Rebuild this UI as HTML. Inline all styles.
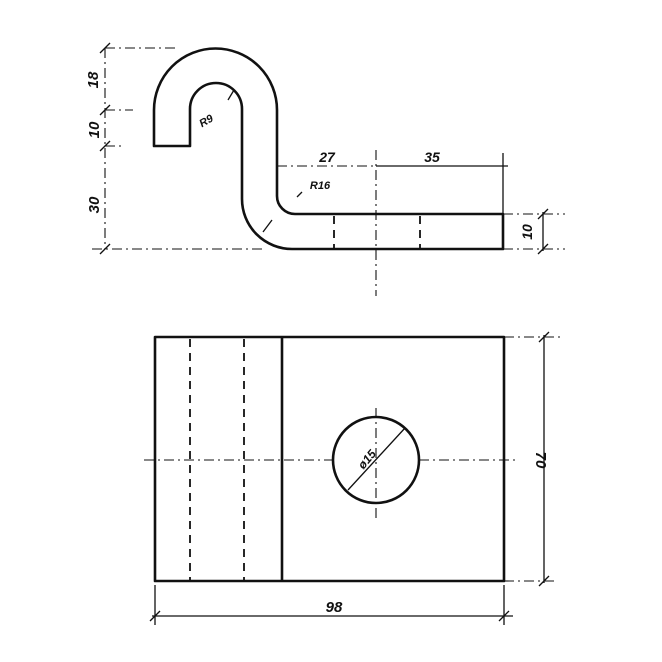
<!DOCTYPE html>
<html><head><style>html,body{margin:0;padding:0;background:#fff}svg{display:block}
text{font-family:"Liberation Sans",sans-serif;font-style:italic;font-weight:bold;fill:#111}</style></head>
<body>
<svg width="662" height="662" viewBox="0 0 662 662" xmlns="http://www.w3.org/2000/svg">
<g fill="none" stroke="#111" stroke-width="2.6" stroke-linejoin="round">
<path d="M154,146 L154,110 A61.5,61.5 0 0 1 277,110 L277,196 A18,18 0 0 0 295,214 L503,214 L503,249 L292,249 A50,50 0 0 1 242,199 L242,109 A26,26 0 0 0 190,109 L190,146 Z"/>
<rect x="155" y="337" width="349" height="244"/>
<line x1="282" y1="337" x2="282" y2="581"/>
<circle cx="376" cy="460" r="43"/>
</g>
<g stroke="#111" stroke-width="1.8" stroke-dasharray="8,6" fill="none">
<line x1="334" y1="216" x2="334" y2="248"/>
<line x1="420" y1="216" x2="420" y2="248"/>
<line x1="190" y1="339" x2="190" y2="580"/>
<line x1="244" y1="339" x2="244" y2="580"/>
</g>
<g stroke="#111" stroke-width="1.1" fill="none" stroke-dasharray="10,4,2,4">
<line x1="376" y1="150" x2="376" y2="296"/>
<line x1="144" y1="460" x2="333" y2="460"/>
<line x1="419" y1="460" x2="516" y2="460"/>
<line x1="376" y1="408" x2="376" y2="520"/>
<line x1="105" y1="48" x2="105" y2="249"/>
<line x1="105" y1="48" x2="175" y2="48"/>
<line x1="105" y1="110" x2="133" y2="110"/>
<line x1="105" y1="146" x2="125" y2="146"/>
<line x1="92" y1="249" x2="265" y2="249"/>
<line x1="277" y1="166" x2="376" y2="166"/>
<line x1="503" y1="214" x2="565" y2="214"/>
<line x1="503" y1="249" x2="565" y2="249"/>
<line x1="504" y1="337" x2="560" y2="337"/>
<line x1="504" y1="581" x2="555" y2="581"/>
</g>
<g stroke="#111" stroke-width="1.3" fill="none">
<line x1="376" y1="166" x2="508" y2="166"/>
<line x1="503" y1="153" x2="503" y2="214"/>
<line x1="543" y1="212" x2="543" y2="251"/>
<line x1="544" y1="335" x2="544" y2="583"/>
<line x1="152" y1="616" x2="513" y2="616"/>
<line x1="155" y1="585" x2="155" y2="625"/>
<line x1="504" y1="585" x2="504" y2="625"/>
<line x1="348" y1="490" x2="405" y2="428"/>
<line x1="228" y1="100" x2="234" y2="90"/>
<line x1="263" y1="232" x2="272" y2="220"/>
<line x1="297" y1="197" x2="302" y2="192"/>
<line x1="100" y1="53" x2="110" y2="43"/><line x1="100" y1="115" x2="110" y2="105"/>
<line x1="100" y1="151" x2="110" y2="141"/><line x1="100" y1="254" x2="110" y2="244"/>
<line x1="538" y1="219" x2="548" y2="209"/><line x1="538" y1="254" x2="548" y2="244"/>
<line x1="539" y1="342" x2="549" y2="332"/><line x1="539" y1="586" x2="549" y2="576"/>
<line x1="150" y1="621" x2="160" y2="611"/><line x1="499" y1="621" x2="509" y2="611"/>
</g>
<text x="98" y="80" font-size="15" transform="rotate(-90 98 80)" text-anchor="middle">18</text>
<text x="99" y="130" font-size="15" transform="rotate(-90 99 130)" text-anchor="middle">10</text>
<text x="99" y="205" font-size="15" transform="rotate(-90 99 205)" text-anchor="middle">30</text>
<text x="327" y="162" font-size="14" text-anchor="middle">27</text>
<text x="432" y="162" font-size="14" text-anchor="middle">35</text>
<text x="532" y="232" font-size="14" transform="rotate(-90 532 232)" text-anchor="middle">10</text>
<text x="208" y="124" font-size="11" transform="rotate(-30 208 124)" text-anchor="middle">R9</text>
<text x="320" y="189" font-size="11" text-anchor="middle">R16</text>
<text x="536" y="460" font-size="15" transform="rotate(90 536 460)" text-anchor="middle">70</text>
<text x="334" y="612" font-size="15" text-anchor="middle">98</text>
<text x="370" y="462" font-size="12" transform="rotate(-50 370 462)" text-anchor="middle">ø15</text>
</svg>
</body></html>
